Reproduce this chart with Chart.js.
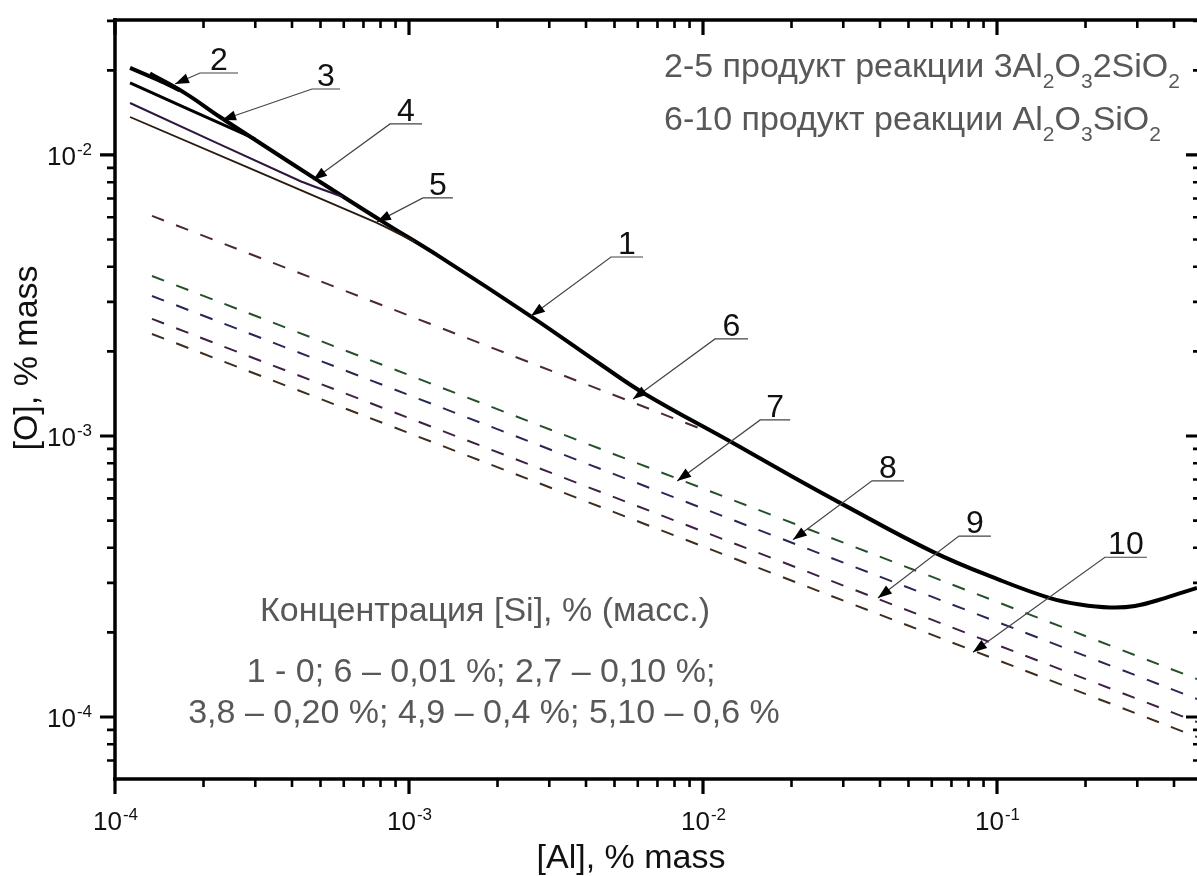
<!DOCTYPE html>
<html>
<head>
<meta charset="utf-8">
<script src="https://cdn.jsdelivr.net/npm/chart.js@4.4.0/dist/chart.umd.min.js"></script>
<style>
  html, body { margin: 0; padding: 0; background: #fff; }
  #wrap { width: 1197px; height: 876px; }
</style>
</head>
<body>
<div id="wrap"><canvas id="oxygenChart" width="1197" height="876"></canvas></div>
<script>
// values: [Al], % mass  ->  [O], % mass
const al1 = [1.315e-4, 1.730e-4, 2.276e-4, 3.113e-4, 4.865e-4, 8.16e-4, 1.274e-3, 2.621e-3, 4.464e-3, 6.35e-3, 1.265e-2, 2.023e-2, 2.924e-2, 6.056e-2, 0.1024, 0.1514, 0.1915, 0.2423, 0.2946, 0.3727, 0.4789];
const o1 = [0.01950, 0.01660, 0.01365, 0.01103, 8.15e-3, 5.78e-3, 4.34e-3, 2.65e-3, 1.804e-3, 1.411e-3, 9.44e-4, 7.14e-4, 5.78e-4, 3.87e-4, 3.07e-4, 2.65e-4, 2.514e-4, 2.454e-4, 2.483e-4, 2.65e-4, 2.88e-4];

// 3Al2O3*2SiO2 curves (2-5)
const al2 = [1.125e-4, 1.401e-4, 1.661e-4];
const o2 = [0.02040, 0.01849, 0.01700];
const al3 = [1.125e-4, 1.799e-4, 2.993e-4];
const o3 = [0.01804, 0.01446, 0.01140];
const al4 = [1.125e-4, 4.26e-4, 5.96e-4];
const o4 = [0.01531, 8.08e-3, 7.09e-3];
const al5 = [1.125e-4, 7.78e-4, 1.048e-3];
const o5 = [0.01365, 5.73e-3, 4.90e-3];

// Al2O3*SiO2 curves (6-10), dashed
const al6 = [1.336e-4, 1.008e-2];
const o6 = [6.07e-3, 1.050e-3];
const alDash = [1.336e-4, 0.4789];
const o7 = [3.71e-3, 1.365e-4];
const o8 = [3.15e-3, 1.159e-4];
const o9 = [2.61e-3, 9.60e-5];
const o10 = [2.307e-3, 8.49e-5];

// axes
const alMin = 1e-4, alMax = 0.4789;
const oMin = 6.017e-5, oMax = 0.03022;
const alDecades = [1e-4, 1e-3, 1e-2, 1e-1];
const oDecades = [1e-4, 1e-3, 1e-2];

// numbered callouts: where the arrow points (data), label offset (px)
const calloutNames = ['1', '2', '3', '4', '5', '6', '7', '8', '9', '10'];
const calloutAl = [2.60e-3, 1.600e-4, 2.312e-4, 4.715e-4, 7.78e-4, 5.78e-3, 8.17e-3, 2.023e-2, 0.03935, 0.0828];
const calloutO = [2.673e-3, 0.01789, 0.01332, 8.15e-3, 5.78e-3, 1.355e-3, 6.92e-4, 4.27e-4, 2.65e-4, 1.70e-4];
const calloutDx = [80, 25, 90, 77, 46, 82, 83, 79, 81, 132];
const calloutDy = [-59, -11, -31, -56, -24, -60, -61, -59, -62, -95];
const calloutLen = [32, 38, 28, 32, 30, 33, 30, 32, 32, 42];

const FONT = '"Liberation Sans", Arial, sans-serif';

function pts(xs, ys) {
    return xs.map((v, i) => ({ x: v, y: ys[i] }));
}

function line(label, xs, ys, color, width, dash) {
    return {
        label: label,
        data: pts(xs, ys),
        showLine: true,
        borderColor: color,
        borderWidth: width,
        borderDash: dash || [],
        pointRadius: 0,
        tension: 0.15,
        fill: false
    };
}

// draws "10" with a superscript exponent
function drawPower(ctx, exp, x, baseY, align) {
    ctx.font = '26px ' + FONT;
    const w1 = ctx.measureText('10').width;
    ctx.font = '17px ' + FONT;
    const w2 = ctx.measureText(exp).width;
    let x0 = align === 'right' ? x - w1 - w2 : x - (w1 + w2) / 2;
    ctx.textAlign = 'left';
    ctx.font = '26px ' + FONT;
    ctx.fillText('10', x0, baseY);
    ctx.font = '17px ' + FONT;
    ctx.fillText(exp, x0 + w1 + 1, baseY - 10);
}

// text with subscripts, parts = [[text, isSub], ...]
function drawRich(ctx, parts, x, baseY, size, align) {
    let total = 0;
    parts.forEach(p => {
        ctx.font = (p[1] ? Math.round(size * 0.62) : size) + 'px ' + FONT;
        total += ctx.measureText(p[0]).width;
    });
    let cx = align === 'center' ? x - total / 2 : x;
    ctx.textAlign = 'left';
    parts.forEach(p => {
        ctx.font = (p[1] ? Math.round(size * 0.62) : size) + 'px ' + FONT;
        ctx.fillText(p[0], cx, p[1] ? baseY + size * 0.32 : baseY);
        cx += ctx.measureText(p[0]).width;
    });
}

const framePlugin = {
    id: 'frame',
    afterDatasetsDraw(chart) {
        const { ctx, chartArea: a, scales: { x, y } } = chart;
        const rightX = a.right + 4;
        ctx.save();
        ctx.strokeStyle = '#000';
        ctx.fillStyle = '#000';

        // axis lines
        ctx.lineWidth = 3.5;
        ctx.beginPath();
        ctx.moveTo(a.left, a.top - 2); ctx.lineTo(a.left, a.bottom + 2);
        ctx.moveTo(a.left - 2, a.top); ctx.lineTo(rightX, a.top);
        ctx.moveTo(a.left - 2, a.bottom); ctx.lineTo(rightX, a.bottom);
        ctx.stroke();

        // ticks
        for (let n = -5; n <= 0; n++) {
            for (let k = 1; k <= 9; k++) {
                const v = k * Math.pow(10, n);
                const major = k === 1;
                const len = major ? 15 : 8;
                ctx.lineWidth = major ? 3.2 : 2.6;
                if (v >= alMin && v <= alMax) {
                    const px = x.getPixelForValue(v);
                    ctx.beginPath();
                    ctx.moveTo(px, a.bottom); ctx.lineTo(px, a.bottom + len);
                    ctx.moveTo(px, a.top); ctx.lineTo(px, a.top + len);
                    ctx.stroke();
                }
                if (v >= oMin && v <= oMax) {
                    const py = y.getPixelForValue(v);
                    ctx.beginPath();
                    ctx.moveTo(a.left, py); ctx.lineTo(a.left - len, py);
                    ctx.moveTo(rightX, py); ctx.lineTo(rightX - len, py);
                    ctx.stroke();
                }
            }
        }

        // tick labels
        ctx.fillStyle = '#111';
        alDecades.forEach(v => {
            drawPower(ctx, String(Math.round(Math.log10(v))), x.getPixelForValue(v), a.bottom + 51, 'center');
        });
        oDecades.forEach(v => {
            drawPower(ctx, String(Math.round(Math.log10(v))), 91, y.getPixelForValue(v) + 10, 'right');
        });

        // axis titles
        ctx.font = '34px ' + FONT;
        ctx.textAlign = 'center';
        ctx.fillText('[Al], % mass', 631, 868);
        ctx.save();
        ctx.translate(37, 358);
        ctx.rotate(-Math.PI / 2);
        ctx.fillText('[O], % mass', 0, 0);
        ctx.restore();

        // callouts
        calloutNames.forEach((name, i) => {
            const tx = x.getPixelForValue(calloutAl[i]);
            const ty = y.getPixelForValue(calloutO[i]);
            const ux = tx + calloutDx[i];
            const uy = ty + calloutDy[i];
            ctx.strokeStyle = '#444';
            ctx.lineWidth = 1.2;
            ctx.beginPath();
            ctx.moveTo(ux + calloutLen[i], uy);
            ctx.lineTo(ux, uy);
            ctx.lineTo(tx, ty);
            ctx.stroke();
            // arrow head
            const ang = Math.atan2(ty - uy, tx - ux);
            ctx.fillStyle = '#000';
            ctx.beginPath();
            ctx.moveTo(tx, ty);
            ctx.lineTo(tx - 14 * Math.cos(ang) + 5 * Math.sin(ang), ty - 14 * Math.sin(ang) - 5 * Math.cos(ang));
            ctx.lineTo(tx - 14 * Math.cos(ang) - 5 * Math.sin(ang), ty - 14 * Math.sin(ang) + 5 * Math.cos(ang));
            ctx.closePath();
            ctx.fill();
            ctx.fillStyle = '#111';
            ctx.font = '32px ' + FONT;
            ctx.textAlign = 'center';
            ctx.fillText(name, ux + calloutLen[i] / 2, uy - 3);
        });

        // notes
        ctx.fillStyle = '#585858';
        drawRich(ctx, [['2-5 продукт реакции 3Al', 0], ['2', 1], ['O', 0], ['3', 1], ['2SiO', 0], ['2', 1]], 664, 77, 34, 'left');
        drawRich(ctx, [['6-10 продукт реакции Al', 0], ['2', 1], ['O', 0], ['3', 1], ['SiO', 0], ['2', 1]], 664, 130, 34, 'left');
        ctx.font = '34px ' + FONT;
        ctx.textAlign = 'center';
        ctx.fillText('Концентрация [Si], % (масс.)', 485, 621);
        ctx.fillText('1 - 0; 6 \u2013 0,01 %; 2,7 \u2013 0,10 %;', 481, 682);
        ctx.fillText('3,8 \u2013 0,20 %; 4,9 \u2013 0,4 %; 5,10 \u2013 0,6 %', 484, 723);
        ctx.restore();
    }
};

const main = line('1', al1, o1, '#000', 4);
main.tension = 0.4;

const chart = new Chart('oxygenChart', {
    type: 'scatter',
    data: {
        datasets: [
            line('6', al6, o6, '#4a2a2e', 2, [13, 13]),
            line('7', alDash, o7, '#26502a', 2, [13, 13]),
            line('8', alDash, o8, '#26285a', 2, [13, 13]),
            line('9', alDash, o9, '#3e2046', 2, [13, 13]),
            line('10', alDash, o10, '#3e2c1c', 2, [13, 13]),
            line('5', al5, o5, '#2a1a0e', 1.8),
            line('4', al4, o4, '#2e1640', 2),
            line('3', al3, o3, '#000', 3),
            line('2', al2, o2, '#000', 4),
            main
        ]
    },
    options: {
        responsive: false,
        animation: false,
        devicePixelRatio: 1,
        layout: { padding: { left: 115, top: 20, right: 0, bottom: 97 } },
        plugins: { legend: { display: false }, tooltip: { enabled: false } },
        scales: {
            x: { type: 'logarithmic', min: alMin, max: alMax, display: false },
            y: { type: 'logarithmic', min: oMin, max: oMax, display: false }
        }
    },
    plugins: [framePlugin]
});
</script>
</body>
</html>
